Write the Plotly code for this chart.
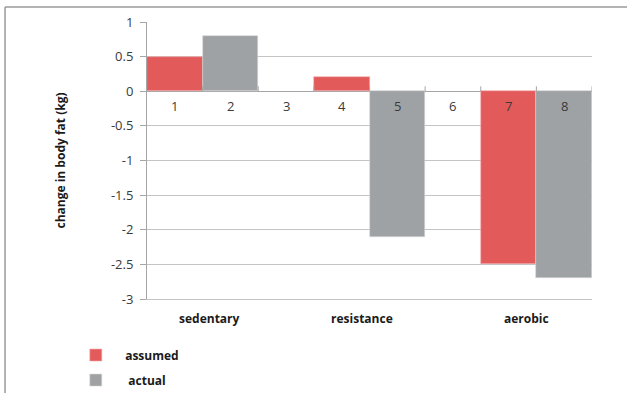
import plotly.graph_objects as go

categories = [1, 2, 3, 4, 5, 6, 7, 8]
category_labels = ["1", "2", "3", "4", "5", "6", "7", "8"]
assumed = [0.5, None, None, 0.2, None, None, -2.5, None]
actual = [None, 0.8, None, None, -2.1, None, None, -2.7]
groups = ["sedentary", "resistance", "aerobic"]
group_pos = [1.63, 4.37, 7.33]
y_ticks = [1, 0.5, 0, -0.5, -1, -1.5, -2, -2.5, -3]
y_tick_labels = ["1", "0.5", "0", "-0.5", "-1", "-1.5", "-2", "-2.5", "-3"]

RED = "#E35A5A"
GRAY = "#9EA2A5"
AXIS = "#A6A6A6"
GRID = "#C4C4C4"
TXT = "#3a3a3a"
FONT = "Open Sans"

fig = go.Figure()
fig.add_trace(go.Bar(x=categories, y=assumed, name="\u00a0\u00a0\u00a0assumed", marker=dict(color=RED, line=dict(color="#F2B0B0", width=0.6)),
                     width=1, legendgroup="a"))
fig.add_trace(go.Bar(x=categories, y=actual, name="\u00a0\u00a0\u00a0\u00a0actual", marker=dict(color=GRAY, line=dict(color="#D4D6D8", width=0.6)),
                     width=1, legendgroup="b"))

# category labels just under zero line
for c, lab in zip(categories, category_labels):
    fig.add_annotation(x=c, y=0, text=lab, showarrow=False, yshift=-15,
                       font=dict(family=FONT, size=13, color=TXT))
# group labels
for g, p in zip(groups, group_pos):
    fig.add_annotation(x=p, y=-3, text="<b>" + g + "</b>", showarrow=False, yshift=-19,
                       font=dict(family=FONT, size=12, color="#1a1a1a"))

# small boundary ticks on the zero line
for b in [1.5, 2.5, 3.5, 4.5, 5.5, 6.5, 7.5, 8.5]:
    fig.add_shape(type="line", xref="x", yref="y", x0=b, x1=b, y0=0, y1=5,
                  ysizemode="pixel", yanchor=0, line=dict(color=AXIS, width=1))

# outer frame lines (top and left)
fig.add_shape(type="line", xref="paper", yref="paper", x0=-0.319, x1=1.08, y0=1.054, y1=1.054,
              line=dict(color="#9A9A9A", width=1.5))
fig.add_shape(type="line", xref="paper", yref="paper", x0=-0.319, x1=-0.319, y0=1.054, y1=-0.34,
              line=dict(color="#9A9A9A", width=1.5))

fig.update_layout(
    width=627, height=393,
    margin=dict(l=147, r=35, t=22, b=94, autoexpand=False),
    paper_bgcolor="white", plot_bgcolor="white",
    barmode="overlay", bargap=0,
    showlegend=True,
    legend=dict(x=-0.16, y=-0.15, xanchor="left", yanchor="top",
                traceorder="grouped", tracegroupgap=6,
                font=dict(family=FONT, size=12, color="#1a1a1a", weight="bold"),
                bgcolor="rgba(0,0,0,0)"),
    xaxis=dict(range=[0.5, 8.5], showticklabels=False, ticks="", showgrid=False,
               zeroline=False, showline=True, linecolor=GRID, linewidth=1),
    yaxis=dict(range=[-3, 1], tickvals=y_ticks, ticktext=y_tick_labels,
               ticks="outside", ticklen=6, tickcolor=AXIS, ticklabelstandoff=4,
               showline=True, linecolor=AXIS, linewidth=1,
               showgrid=True, gridcolor=GRID, gridwidth=1,
               zeroline=True, zerolinecolor=AXIS, zerolinewidth=1,
               tickfont=dict(family=FONT, size=13, color=TXT),
               title=dict(text="<b>change in body fat (kg)</b>", standoff=42,
                          font=dict(family=FONT, size=12, color="#1a1a1a"))),
)

fig.write_html("out.html")
